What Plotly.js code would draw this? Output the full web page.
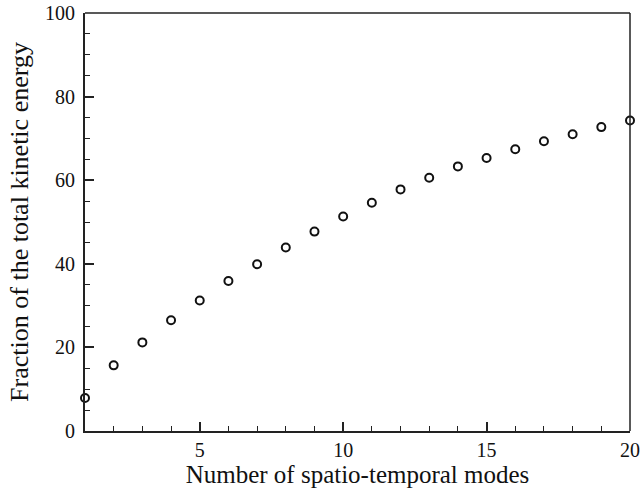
<!DOCTYPE html>
<html><head><meta charset="utf-8">
<script src="https://cdn.plot.ly/plotly-3.0.1.min.js"></script>
<style>html,body{margin:0;padding:0;background:#fff}#chart{width:641px;height:498px}</style>
</head><body><div id="chart"></div>
<script>
const modes = [1,2,3,4,5,6,7,8,9,10,11,12,13,14,15,16,17,18,19,20];
const energyFraction = [7.9,15.7,21.2,26.5,31.2,35.9,39.9,43.9,47.7,51.3,54.6,57.8,60.6,63.3,65.3,67.4,69.3,71.0,72.7,74.3];
const xTickVals = [5,10,15,20];
const yTickVals = [0,20,40,60,80,100];

const font = {family:'"Liberation Serif", "Times New Roman", serif', color:'#111'};
Plotly.newPlot('chart', [{
  x: modes, y: energyFraction, type:'scatter', mode:'markers', cliponaxis:false,
  marker:{symbol:'circle-open', size:8, color:'#111', line:{width:2, color:'#111'}},
  showlegend:false
}], {
  width:641, height:498,
  margin:{l:85, r:11, t:13, b:67},
  paper_bgcolor:'#fff', plot_bgcolor:'#fff',
  font: Object.assign({size:20}, font),
  xaxis:{range:[1,20], tickvals:xTickVals, ticks:'inside', ticklen:9, tickwidth:2, tickcolor:'#222',
    showline:true, linewidth:2, linecolor:'#222', showgrid:false, zeroline:false,
    minor:{dtick:1, tick0:0, ticks:'inside', ticklen:5, tickwidth:1, tickcolor:'#222'},
    tickfont:Object.assign({size:20}, font),
    title:{text:'Number of spatio-temporal modes', font:Object.assign({size:25}, font), standoff:5}},
  yaxis:{range:[0,100], tickvals:yTickVals, ticks:'inside', ticklen:9, tickwidth:2, tickcolor:'#222',
    showline:true, linewidth:2, linecolor:'#222', showgrid:false, zeroline:false,
    minor:{dtick:5, tick0:0, ticks:'inside', ticklen:5, tickwidth:1, tickcolor:'#222'},
    tickfont:Object.assign({size:20}, font), ticklabelstandoff:4,
    title:{text:'Fraction of the total kinetic energy', font:Object.assign({size:26}, font), standoff:9}},
  shapes:[
    {type:'line', xref:'paper', yref:'paper', x0:0, x1:1, y0:1, y1:1, line:{color:'#222', width:1.5}},
    {type:'line', xref:'paper', yref:'paper', x0:1, x1:1, y0:0, y1:1, line:{color:'#222', width:1.5}}
  ]
}, {staticPlot:true});
</script></body></html>
